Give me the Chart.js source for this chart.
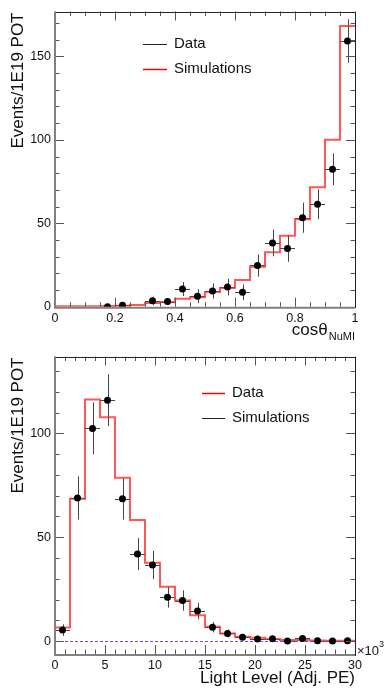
<!DOCTYPE html>
<html>
<head>
<meta charset="utf-8">
<script src="https://cdn.jsdelivr.net/npm/chart.js@4/dist/chart.umd.min.js"></script>
<style>
html, body { margin: 0; padding: 0; background: #fff; width: 389px; height: 699px; overflow: hidden; }
canvas { position: absolute; left: 0; }
#graficoCos { top: 0; }
#graficoLuz { top: 345px; }
</style>
</head>
<body>
<canvas id="graficoCos" width="389" height="345"></canvas>
<canvas id="graficoLuz" width="389" height="354"></canvas>
<script>
const FONTE = '"Liberation Sans", Arial, Helvetica, sans-serif';

// Painel de cima: cos(theta_NuMI)
const cosBinInicio = [0, 0.05, 0.1, 0.15, 0.2, 0.25, 0.3, 0.35, 0.4, 0.45, 0.5, 0.55, 0.6, 0.65, 0.7, 0.75, 0.8, 0.85, 0.9, 0.95];
const cosBinLargura = 0.05;
const cosSimulacao = [0.2, 0.2, 0.3, 0.4, 0.6, 1.0, 2.2, 2.8, 4.7, 5.7, 8.8, 11.2, 16, 24, 32.7, 42.5, 52.4, 71.6, 100, 168.2];
const cosDadosX = [0.175, 0.225, 0.325, 0.375, 0.425, 0.475, 0.525, 0.575, 0.625, 0.675, 0.725, 0.775, 0.825, 0.875, 0.925, 0.975];
const cosDados = [0, 0.8, 3.5, 3.1, 10.6, 6.3, 9.4, 11.8, 8.6, 24.7, 38.2, 34.9, 53.3, 61.4, 82.4, 159.2];
const cosErros = [0, 1.5, 2.5, 2, 4.2, 4.2, 4.6, 5, 4.7, 6.7, 8, 8, 9, 9, 9.5, 13];
const cosRotulosX = [0, 0.2, 0.4, 0.6, 0.8, 1];
const cosRotulosY = [0, 50, 100, 150];

// Painel de baixo: Light Level (x10^3)
const luzBinInicio = [0, 1.5, 3, 4.5, 6, 7.5, 9, 10.5, 12, 13.5, 15, 16.5, 18, 19.5, 21, 22.5, 24, 25.5, 27, 28.5];
const luzBinLargura = 1.5;
const luzSimulacao = [6.5, 68.5, 116.3, 107.7, 78.6, 58.3, 37.7, 26.2, 19.5, 12.5, 6.9, 3.7, 2.1, 1.6, 1.0, 0.5, 0.5, 0.3, 0.2, 0.2];
const luzDadosX = [0.75, 2.25, 3.75, 5.25, 6.75, 8.25, 9.75, 11.25, 12.75, 14.25, 15.75, 17.25, 18.75, 20.25, 21.75, 23.25, 24.75, 26.25, 27.75, 29.25];
const luzDados = [5.3, 68.9, 102.4, 116, 68.5, 41.9, 36.6, 21.1, 19.5, 14.5, 6.7, 3.7, 1.9, 1.0, 1.1, 0, 1.3, 0.2, 0, 0.2];
const luzErros = [2.8, 10.4, 12.5, 12.5, 10, 7.7, 6.8, 5, 4.9, 4, 2.5, 1.9, 1.3, 1, 1, 0.5, 1.1, 0.5, 0.5, 0.5];
const luzRotulosX = [0, 5, 10, 15, 20, 25, 30];
const luzRotulosY = [0, 50, 100];

// Pontos do histograma em degraus
function pontosHistograma(inicio, largura, valores, piso) {
  const pts = [{ x: inicio[0], y: piso }];
  valores.forEach((v, i) => pts.push({ x: inicio[i], y: v }));
  pts.push({ x: inicio[inicio.length - 1] + largura, y: valores[valores.length - 1] });
  return pts;
}

// Marcas de escala: múltiplos de passo dentro de [min, max]
function valoresMarcas(passo, min, max) {
  const v = [];
  for (let k = Math.ceil(min / passo - 1e-9); k * passo <= max + 1e-9; k++) v.push(+(k * passo).toFixed(6));
  return v;
}

function ehPrincipal(lista, v) {
  return lista.some(m => Math.abs(m - v) < 1e-6);
}

// Barras de erro (verticais e horizontais)
const pluginErros = {
  id: 'erros',
  beforeDatasetsDraw(chart) {
    const ctx = chart.ctx, sx = chart.scales.x, sy = chart.scales.y;
    chart.data.datasets.forEach(ds => {
      if (!ds.erros) return;
      ctx.save();
      ctx.strokeStyle = '#444';
      ctx.lineWidth = 1;
      ds.data.forEach((p, i) => {
        const px = Math.round(sx.getPixelForValue(p.x)) + 0.5, py = Math.round(sy.getPixelForValue(p.y)) + 0.5;
        ctx.beginPath();
        ctx.moveTo(sx.getPixelForValue(p.x - ds.meiaLargura), py);
        ctx.lineTo(sx.getPixelForValue(p.x + ds.meiaLargura), py);
        if (ds.erros[i] > 0) {
          ctx.moveTo(px, sy.getPixelForValue(p.y - ds.erros[i]));
          ctx.lineTo(px, sy.getPixelForValue(p.y + ds.erros[i]));
        }
        ctx.stroke();
      });
      ctx.restore();
    });
  }
};

// Moldura, marcas internas, títulos e legenda
const pluginDecoracao = {
  id: 'decoracao',
  beforeDatasetsDraw(chart, args, op) {
    const ctx = chart.ctx, a = chart.chartArea, sy = chart.scales.y;
    const y0 = Math.round(sy.getPixelForValue(0)) + 0.5;
    ctx.save();
    ctx.strokeStyle = '#5555ee';
    ctx.lineWidth = 1;
    ctx.setLineDash([3, 2]);
    ctx.beginPath();
    ctx.moveTo(a.left, y0);
    ctx.lineTo(a.right, y0);
    ctx.stroke();
    ctx.restore();
  },
  afterDraw(chart, args, op) {
    const ctx = chart.ctx, a = chart.chartArea, sx = chart.scales.x, sy = chart.scales.y;
    ctx.save();
    // marcas de escala para dentro
    ctx.strokeStyle = '#555';
    ctx.lineWidth = 1;
    ctx.beginPath();
    sx.ticks.forEach(t => {
      const px = Math.round(sx.getPixelForValue(t.value)) + 0.5;
      const L = ehPrincipal(op.principaisX, t.value) ? 9 : 4.5;
      ctx.moveTo(px, a.bottom); ctx.lineTo(px, a.bottom - L);
      ctx.moveTo(px, a.top); ctx.lineTo(px, a.top + L);
    });
    sy.ticks.forEach(t => {
      const py = Math.round(sy.getPixelForValue(t.value)) + 0.5;
      const L = ehPrincipal(op.principaisY, t.value) ? 9 : 4.5;
      ctx.moveTo(a.left, py); ctx.lineTo(a.left + L, py);
      ctx.moveTo(a.right, py); ctx.lineTo(a.right - L, py);
    });
    ctx.stroke();
    // moldura
    ctx.strokeStyle = '#222';
    ctx.lineWidth = 1;
    ctx.strokeRect(Math.round(a.left) + 0.5, Math.round(a.top) + 0.5, Math.round(a.right - a.left), Math.round(a.bottom - a.top));
    ctx.strokeStyle = '#808080';
    ctx.lineWidth = 2;
    ctx.beginPath();
    ctx.moveTo(a.left, a.top); ctx.lineTo(a.left, a.bottom + 1); ctx.lineTo(a.right, a.bottom + 1);
    ctx.stroke();

    // título do eixo Y
    ctx.fillStyle = '#111';
    ctx.font = '17px ' + FONTE;
    ctx.translate(18, a.top + 1);
    ctx.rotate(-Math.PI / 2);
    ctx.textAlign = 'right';
    ctx.textBaseline = 'middle';
    ctx.fillText('Events/1E19 POT', 0, 0);
    ctx.setTransform(1, 0, 0, 1, 0, 0);

    // título do eixo X
    ctx.textBaseline = 'alphabetic';
    ctx.textAlign = 'right';
    if (op.subscrito) {
      ctx.font = '11px ' + FONTE;
      const w = ctx.measureText(op.subscrito).width;
      ctx.fillText(op.subscrito, a.right, a.bottom + op.baseTitulo + 5);
      ctx.font = '17px ' + FONTE;
      ctx.fillText(op.tituloX, a.right - w - 1, a.bottom + op.baseTitulo);
    } else {
      ctx.font = '17px ' + FONTE;
      ctx.fillText(op.tituloX, a.right, a.bottom + op.baseTitulo);
    }
    if (op.expoente) {
      ctx.textAlign = 'left';
      ctx.textBaseline = 'middle';
      ctx.font = '13px ' + FONTE;
      ctx.fillText('\u00d710', a.right + 2, a.bottom - 3);
      const w = ctx.measureText('\u00d710').width;
      ctx.font = '9px ' + FONTE;
      ctx.fillText(op.expoente, a.right + 2 + w, a.bottom - 9);
    }

    // legenda
    ctx.textAlign = 'left';
    ctx.textBaseline = 'middle';
    ctx.font = '15px ' + FONTE;
    op.legenda.forEach(item => {
      ctx.strokeStyle = item.cor;
      ctx.lineWidth = item.espessura;
      ctx.beginPath();
      ctx.moveTo(item.x, item.y + 0.5); ctx.lineTo(item.x + item.comp, item.y + 0.5);
      ctx.stroke();
      ctx.fillStyle = '#111';
      ctx.fillText(item.texto, item.x + item.comp + 7, item.y);
    });
    ctx.restore();
  }
};

// Cria um painel
function criarPainel(id, cfg) {
  const ctx = document.getElementById(id).getContext('2d');
  return new Chart(ctx, {
    type: 'scatter',
    data: {
      datasets: [
        {
          label: 'Data',
          data: cfg.dadosX.map((x, i) => ({ x: x, y: cfg.dados[i] })),
          erros: cfg.erros,
          meiaLargura: cfg.binLargura / 2,
          pointRadius: 3.5,
          pointBackgroundColor: '#000',
          pointBorderWidth: 0,
          showLine: false
        },
        {
          type: 'line',
          label: 'Simulations',
          data: pontosHistograma(cfg.binInicio, cfg.binLargura, cfg.simulacao, cfg.yMin),
          borderColor: 'rgba(255,30,30,0.75)',
          borderWidth: 2,
          stepped: true,
          pointRadius: 0,
          fill: false
        }
      ]
    },
    options: {
      responsive: false,
      devicePixelRatio: 1,
      animation: false,
      layout: { padding: { top: cfg.topo, right: 34, left: 0, bottom: 0 } },
      plugins: {
        legend: { display: false },
        tooltip: { enabled: false },
        decoracao: cfg.decoracao
      },
      scales: {
        x: {
          type: 'linear',
          min: cfg.xMin, max: cfg.xMax,
          afterBuildTicks: s => { s.ticks = valoresMarcas(cfg.passoX, cfg.xMin, cfg.xMax).map(v => ({ value: v })); },
          afterFit: s => { s.height = cfg.alturaX; },
          grid: { display: false, drawTicks: false },
          border: { display: false },
          ticks: {
            autoSkip: false, maxRotation: 0, padding: 4, color: '#111',
            font: { family: FONTE, size: 12.5 },
            callback: v => ehPrincipal(cfg.rotulosX, v) ? String(+v.toFixed(4)) : ''
          }
        },
        y: {
          min: cfg.yMin, max: cfg.yMax,
          afterBuildTicks: s => { s.ticks = valoresMarcas(10, cfg.yMin, cfg.yMax).map(v => ({ value: v })); },
          afterFit: s => { s.width = 55; },
          grid: { display: false, drawTicks: false },
          border: { display: false },
          ticks: {
            autoSkip: false, padding: 4, color: '#111',
            font: { family: FONTE, size: 12.5 },
            callback: v => ehPrincipal(cfg.rotulosY, v) ? String(v) : ''
          }
        }
      }
    },
    plugins: [pluginErros, pluginDecoracao]
  });
}

window.addEventListener('DOMContentLoaded', () => {
  criarPainel('graficoCos', {
    binInicio: cosBinInicio, binLargura: cosBinLargura, simulacao: cosSimulacao,
    dadosX: cosDadosX, dados: cosDados, erros: cosErros,
    rotulosX: cosRotulosX, rotulosY: cosRotulosY,
    xMin: 0, xMax: 1, passoX: 0.05, yMin: 0, yMax: 176.9,
    topo: 6, alturaX: 38.3,
    decoracao: {
      principaisX: cosRotulosX, principaisY: cosRotulosY,
      tituloX: 'cos\u03b8', subscrito: 'NuMI', baseTitulo: 28,
      legenda: [
        { texto: 'Data', cor: '#222', espessura: 1, x: 143, y: 44, comp: 24 },
        { texto: 'Simulations', cor: '#f00', espessura: 1.5, x: 143, y: 69, comp: 24 }
      ]
    }
  });
  criarPainel('graficoLuz', {
    binInicio: luzBinInicio, binLargura: luzBinLargura, simulacao: luzSimulacao,
    dadosX: luzDadosX, dados: luzDados, erros: luzErros,
    rotulosX: luzRotulosX, rotulosY: luzRotulosY,
    xMin: 0, xMax: 30, passoX: 1, yMin: -6.2, yMax: 137,
    topo: 10, alturaX: 45,
    decoracao: {
      principaisX: luzRotulosX, principaisY: luzRotulosY,
      tituloX: 'Light Level (Adj. PE)', baseTitulo: 29, expoente: '3',
      legenda: [
        { texto: 'Data', cor: '#f00', espessura: 1.5, x: 202, y: 48, comp: 23 },
        { texto: 'Simulations', cor: '#222', espessura: 1, x: 202, y: 73, comp: 23 }
      ]
    }
  });
});
</script>
</body>
</html>
